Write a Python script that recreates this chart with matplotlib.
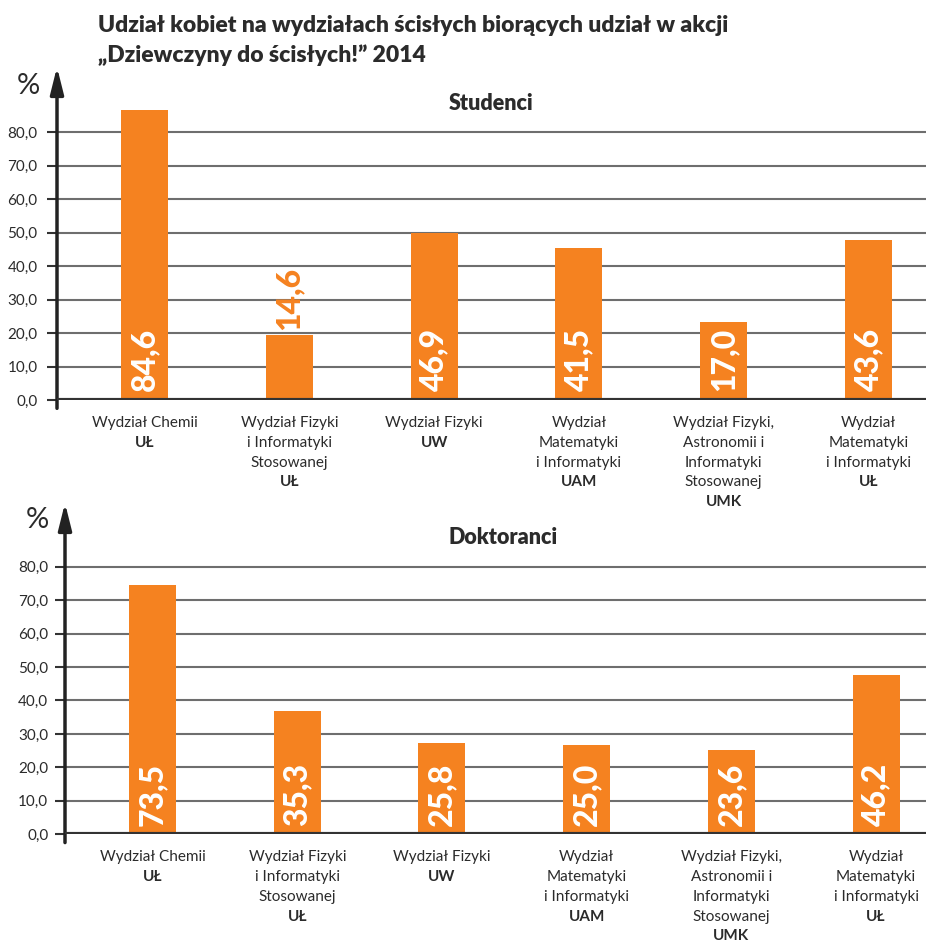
import matplotlib
matplotlib.use('Agg')
import matplotlib.pyplot as plt
import numpy as np

plt.rcParams['font.family'] = ['Lato', 'DejaVu Sans']

# --- data ---
title_lines = ['Udział kobiet na wydziałach ścisłych biorących udział w akcji',
               '„Dziewczyny do ścisłych!” 2014']
faculty_lines = [['Wydział Chemii'],
                 ['Wydział Fizyki', 'i Informatyki', 'Stosowanej'],
                 ['Wydział Fizyki'],
                 ['Wydział', 'Matematyki', 'i Informatyki'],
                 ['Wydział Fizyki,', 'Astronomii i', 'Informatyki', 'Stosowanej'],
                 ['Wydział', 'Matematyki', 'i Informatyki']]
universities = ['UŁ', 'UŁ', 'UW', 'UAM', 'UMK', 'UŁ']

students_labels = [84.6, 14.6, 46.9, 41.5, 17.0, 43.6]
students_bars = [86.6, 19.5, 50.0, 45.3, 23.2, 47.9]   # bar heights as drawn in the source
phd_labels = [73.5, 35.3, 25.8, 25.0, 23.6, 46.2]
phd_bars = [74.4, 36.8, 27.3, 26.6, 25.3, 47.5]
yticks = [0, 10, 20, 30, 40, 50, 60, 70, 80]

ORANGE = '#F58220'
DARK = '#2b2b2b'
W, H = 926, 941

fig = plt.figure(figsize=(W / 100, H / 100), dpi=100, facecolor='w')

fig.text(98 / W, 1 - 32 / H, title_lines[0], fontsize=16.5, fontweight='heavy', color=DARK, va='baseline')
fig.text(98 / W, 1 - 62 / H, title_lines[1], fontsize=16.5, fontweight='heavy', color=DARK, va='baseline')


def panel(rect, xlim, ymax, bars, labels, pad):
    ax = fig.add_axes(rect)
    ax.patch.set_visible(False)
    x = np.arange(len(bars))
    ax.set_xlim(*xlim)
    ax.set_ylim(0, ymax)
    for s in ax.spines.values():
        s.set_visible(False)
    for v in yticks[1:]:
        ax.axhline(v, color='#6e6e6e', lw=1.5, zorder=1)
    ax.axhline(0, color='#333333', lw=3, zorder=4)
    ax.bar(x, bars, width=0.325, color=ORANGE, zorder=3)
    ax.set_yticks(yticks)
    ax.set_yticklabels([('%.1f' % v).replace('.', ',') for v in yticks])
    ax.tick_params(axis='y', length=7, width=1.5, color='#333333', labelsize=11,
                   labelcolor=DARK, pad=pad)
    ax.set_xticks([])
    ax.annotate('', xy=(0, 1), xycoords='axes fraction', xytext=(0, -0.025),
                textcoords='axes fraction', annotation_clip=False,
                arrowprops=dict(arrowstyle='-|>,head_length=1.0,head_width=0.25',
                                color='#222222', lw=2.5, mutation_scale=16,
                                shrinkA=0, shrinkB=0))
    # value labels
    for i in range(len(bars)):
        txt = ('%.1f' % labels[i]).replace('.', ',')
        if bars[i] < 20:
            ax.text(x[i], bars[i] + 1.5, txt, rotation=90, ha='center', va='bottom',
                    color=ORANGE, fontsize=23, fontweight='black', zorder=5)
        else:
            ax.text(x[i], 2.6, txt, rotation=90, ha='center', va='bottom',
                    color='white', fontsize=23, fontweight='black', zorder=5)
    # category labels
    for i in range(len(bars)):
        lines = faculty_lines[i]
        for k, line in enumerate(lines):
            ax.annotate(line, xy=(x[i], 0), xycoords=('data', 'axes fraction'),
                        xytext=(0, -(16.6 + 14.2 * k)), textcoords='offset points',
                        ha='center', va='center', fontsize=11, color=DARK,
                        annotation_clip=False)
        ax.annotate(universities[i], xy=(x[i], 0), xycoords=('data', 'axes fraction'),
                    xytext=(0, -(16.6 + 14.2 * len(lines))), textcoords='offset points',
                    ha='center', va='center', fontsize=11, fontweight='bold', color=DARK,
                    annotation_clip=False)
    return ax


ax1 = panel([57 / W, 1 - 400 / H, 869 / W, 333 / H], (-0.604, 5.397), 99.5,
            students_bars, students_labels, 7)
ax2 = panel([65 / W, 1 - 834.3 / H, 861 / W, 331.3 / H], (-0.605, 5.345), 99,
            phd_bars, phd_labels, 5)

fig.text(28 / W, 1 - 86 / H, '%', fontsize=21, color=DARK, ha='center', va='center')
fig.text(37 / W, 1 - 520 / H, '%', fontsize=21, color=DARK, ha='center', va='center')
fig.text(491 / W, 1 - 103 / H, 'Studenci', fontsize=15.5, fontweight='heavy', color=DARK,
         ha='center', va='center')
fig.text(503 / W, 1 - 538 / H, 'Doktoranci', fontsize=15.5, fontweight='heavy', color=DARK,
         ha='center', va='center')

fig.savefig('out.png', dpi=100, facecolor='w')
